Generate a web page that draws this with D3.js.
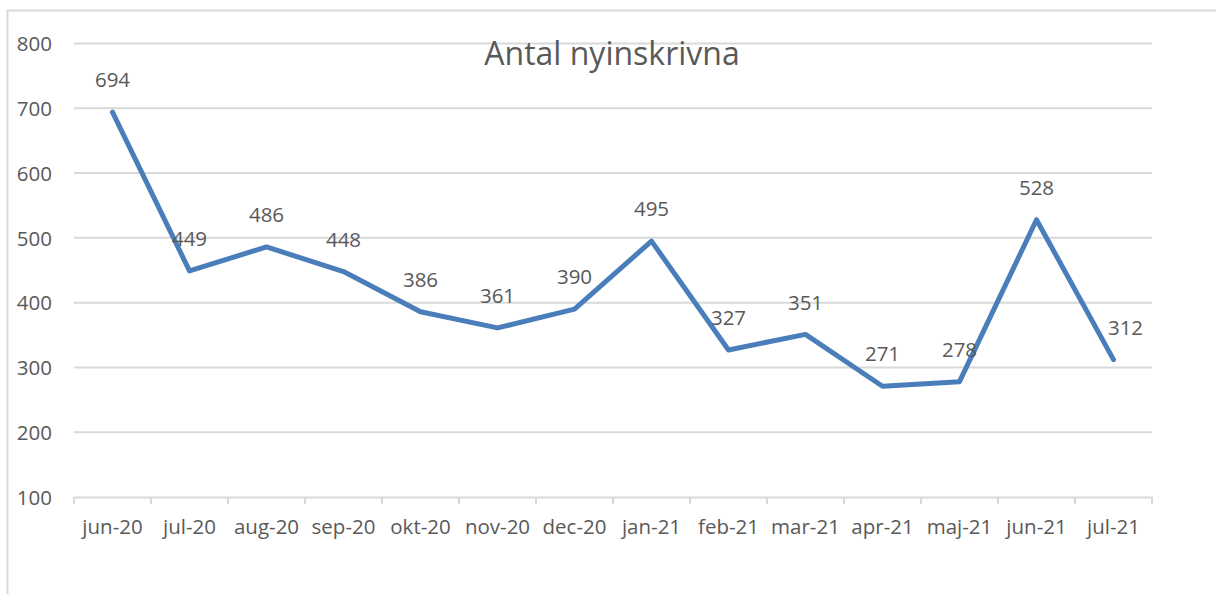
<!DOCTYPE html>
<html>
<head>
<meta charset="utf-8">
<script src="https://cdn.jsdelivr.net/npm/d3@7"></script>
<style>
  body { margin: 0; background: #fff; }
  svg text { font-family: "Open Sans", "Noto Sans", sans-serif; fill: #595959; }
</style>
</head>
<body>
<svg width="1216" height="594"></svg>
<script>
var months = ["jun-20", "jul-20", "aug-20", "sep-20", "okt-20", "nov-20", "dec-20",
              "jan-21", "feb-21", "mar-21", "apr-21", "maj-21", "jun-21", "jul-21"];
var values = [694, 449, 486, 448, 386, 361, 390, 495, 327, 351, 271, 278, 528, 312];
var yTicks = [100, 200, 300, 400, 500, 600, 700, 800];
var title = "Antal nyinskrivna";

var svg = d3.select("svg");

// chart area border (runs off the right and bottom edge)
svg.append("rect")
   .attr("x", 7.5).attr("y", 10.5)
   .attr("width", 1400).attr("height", 800)
   .attr("fill", "none")
   .attr("stroke", "#d9d9d9")
   .attr("stroke-width", 2);

var plotLeft = 74, plotRight = 1152, plotTop = 43.5, plotBottom = 497;

var x = d3.scaleBand().domain(months).range([plotLeft, plotRight]);
var y = d3.scaleLinear().domain([100, 800]).range([plotBottom, plotTop]);

// gridlines
svg.append("g")
   .selectAll("line")
   .data(yTicks.slice(1))
   .enter().append("line")
   .attr("x1", plotLeft).attr("x2", plotRight)
   .attr("y1", function(d) { return y(d); })
   .attr("y2", function(d) { return y(d); })
   .attr("stroke", "#d9d9d9")
   .attr("stroke-width", 2);

// y axis labels
var yAxis = svg.append("g")
   .attr("transform", "translate(" + (plotLeft - 22) + ",0)")
   .call(d3.axisLeft(y).tickValues(yTicks).tickSize(0).tickPadding(0));
yAxis.select(".domain").remove();
yAxis.selectAll("text")
     .attr("dy", "0.35em")
     .style("font-size", "20.5px");

// x axis
var xAxis = svg.append("g")
   .attr("transform", "translate(0," + plotBottom + ")")
   .call(d3.axisBottom(x).tickSize(0).tickPadding(30));
xAxis.select(".domain")
     .attr("stroke", "#d9d9d9")
     .attr("stroke-width", 2);
xAxis.selectAll("text")
     .attr("dy", "0.35em")
     .style("font-size", "20.5px");

// tick marks between categories
svg.append("g")
   .selectAll("line")
   .data(months.concat(["end"]))
   .enter().append("line")
   .attr("x1", function(d, i) { return plotLeft + i * x.step(); })
   .attr("x2", function(d, i) { return plotLeft + i * x.step(); })
   .attr("y1", plotBottom)
   .attr("y2", plotBottom + 7)
   .attr("stroke", "#d9d9d9")
   .attr("stroke-width", 2);

// line
var line = d3.line()
   .x(function(d, i) { return x(months[i]) + x.bandwidth() / 2; })
   .y(function(d) { return y(d); });

svg.append("path")
   .datum(values)
   .attr("d", line)
   .attr("fill", "none")
   .attr("stroke", "#4a7ebb")
   .attr("stroke-width", 5)
   .attr("stroke-linejoin", "round")
   .attr("stroke-linecap", "round");

// data labels (last one nudged right like in the original)
svg.append("g")
   .selectAll("text")
   .data(values)
   .enter().append("text")
   .attr("x", function(d, i) {
     var cx = x(months[i]) + x.bandwidth() / 2;
     return i == values.length - 1 ? cx + 12 : cx;
   })
   .attr("y", function(d) { return y(d) - 32; })
   .attr("dy", "0.35em")
   .attr("text-anchor", "middle")
   .style("font-size", "20.5px")
   .text(function(d) { return d; });

// title
svg.append("text")
   .attr("x", 612)
   .attr("y", 65)
   .attr("text-anchor", "middle")
   .style("font-size", "32px")
   .text(title);
</script>
</body>
</html>
